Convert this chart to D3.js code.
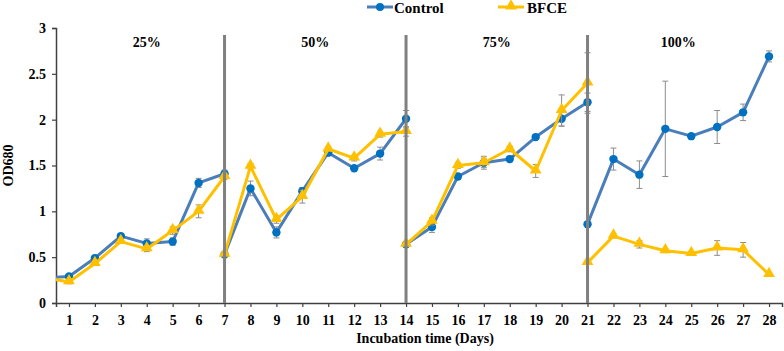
<!DOCTYPE html>
<html>
<head>
<meta charset="utf-8">
<script src="https://cdn.jsdelivr.net/npm/d3@7"></script>
<style>
  body { margin: 0; background: #fff; }
  svg text { font-family: "Liberation Serif", "Times New Roman", "DejaVu Serif", serif !important; font-weight: bold; }
</style>
</head>
<body>
<script>
const WIDTH = 784;
const HEIGHT = 351;

// Días de cada fase (el día de corte aparece en dos fases)
const phaseLabels = ["25%", "50%", "75%", "100%"];
const phaseDays = [
  [0, 1, 2, 3, 4, 5, 6, 7],
  [7, 8, 9, 10, 11, 12, 13, 14],
  [14, 15, 16, 17, 18, 19, 20, 21],
  [21, 22, 23, 24, 25, 26, 27, 28]
];
const phaseCenters = [4, 10.5, 17.5, 24.5];
const separators = [7, 14, 21];
const tickDays = [1, 2, 3, 4, 5, 6, 7, 8, 9, 10, 11, 12, 13, 14, 15, 16, 17, 18, 19, 20, 21, 22, 23, 24, 25, 26, 27, 28];
const yTicks = [0, 0.5, 1, 1.5, 2, 2.5, 3];

// Valores de OD680
const controlValues = [
  [0.27, 0.29, 0.49, 0.73, 0.65, 0.67, 1.31, 1.41],
  [0.53, 1.25, 0.77, 1.22, 1.64, 1.47, 1.63, 2.01],
  [0.64, 0.83, 1.38, 1.53, 1.57, 1.81, 2.01, 2.19],
  [0.86, 1.57, 1.40, 1.90, 1.82, 1.92, 2.08, 2.69]
];
const controlErrors = [
  [0.02, 0.02, 0.02, 0.02, 0.05, 0.04, 0.05, 0.04],
  [0.01, 0.08, 0.06, 0.04, 0.03, 0.02, 0.07, 0.09],
  [0.01, 0.06, 0.03, 0.05, 0.03, 0.02, 0.08, 0.10],
  [0.01, 0.12, 0.15, 0.52, 0.02, 0.18, 0.09, 0.06]
];
const bfceValues = [
  [0.28, 0.23, 0.43, 0.67, 0.59, 0.79, 1.00, 1.38],
  [0.53, 1.49, 0.91, 1.16, 1.68, 1.58, 1.84, 1.87],
  [0.64, 0.89, 1.50, 1.53, 1.68, 1.44, 2.10, 2.40],
  [0.44, 0.73, 0.64, 0.57, 0.54, 0.60, 0.58, 0.31]
];
const bfceErrors = [
  [0.02, 0.02, 0.02, 0.02, 0.03, 0.04, 0.07, 0.03],
  [0.01, 0.03, 0.04, 0.07, 0.02, 0.03, 0.03, 0.05],
  [0.01, 0.04, 0.03, 0.07, 0.03, 0.07, 0.17, 0.33],
  [0.01, 0.02, 0.04, 0.02, 0.02, 0.08, 0.08, 0.02]
];

const series = [
  { name: "Control", values: controlValues, errors: controlErrors, line: "#4a7ebb", marker: "#0070c0", shape: "circle" },
  { name: "BFCE", values: bfceValues, errors: bfceErrors, line: "#ffc000", marker: "#ffc000", shape: "triangle" }
];

const margin = { top: 28, right: 2, bottom: 48, left: 56 };
const plotW = WIDTH - margin.left - margin.right;
const plotH = HEIGHT - margin.top - margin.bottom;

const svg = d3.select("body").append("svg")
  .attr("width", WIDTH)
  .attr("height", HEIGHT);

const x = d3.scaleLinear().domain([0.5, 28.5]).range([margin.left, margin.left + plotW]);
const y = d3.scaleLinear().domain([0, 3]).range([margin.top + plotH, margin.top]);

svg.append("defs").append("clipPath").attr("id", "plot")
  .append("rect")
  .attr("x", margin.left).attr("y", 0)
  .attr("width", plotW + 2).attr("height", HEIGHT);

// Ejes
const yAxis = svg.append("g")
  .attr("transform", `translate(${margin.left},0)`)
  .call(d3.axisLeft(y).tickValues(yTicks).tickFormat(d3.format("")).tickSize(4).tickPadding(6));
const xAxis = svg.append("g")
  .attr("transform", `translate(0,${margin.top + plotH})`)
  .call(d3.axisBottom(x).tickValues(tickDays).tickSize(4).tickPadding(8));

[yAxis, xAxis].forEach(a => {
  a.select(".domain").attr("stroke", "#404040").attr("stroke-width", 1.5);
  a.selectAll(".tick line").attr("stroke", "#404040").attr("stroke-width", 1.2);
  a.selectAll("text")
    .attr("font-size", 14)
    .attr("fill", "#000");
});

svg.append("text")
  .attr("transform", `translate(13,${margin.top + plotH / 2}) rotate(-90)`)
  .attr("text-anchor", "middle")
  .attr("font-size", 14)
  .text("OD680");

svg.append("text")
  .attr("x", 425)
  .attr("y", 343)
  .attr("text-anchor", "middle")
  .attr("font-size", 14)
  .text("Incubation time (Days)");

// Etiquetas de fase
svg.selectAll(".phase")
  .data(phaseLabels)
  .join("text")
  .attr("class", "phase")
  .attr("x", (d, i) => x(phaseCenters[i]))
  .attr("y", 47)
  .attr("text-anchor", "middle")
  .attr("font-size", 14)
  .text(d => d);

const plot = svg.append("g").attr("clip-path", "url(#plot)");

const line = d3.line().x(d => x(d.day)).y(d => y(d.value));

const triangle = d3.symbol().type(d3.symbolTriangle).size(60);

series.forEach(s => {
  const g = plot.append("g");
  const points = [];
  s.values.forEach((vals, p) => {
    const pts = vals.map((v, i) => ({ day: phaseDays[p][i], value: v, err: s.errors[p][i] }));
    points.push(pts);
  });

  // Barras de error
  const allPts = points.flat();
  const eb = g.append("g").attr("stroke", "#8c8c8c").attr("stroke-width", 1);
  eb.selectAll(".bar").data(allPts).join("line")
    .attr("x1", d => x(d.day)).attr("x2", d => x(d.day))
    .attr("y1", d => y(d.value - d.err)).attr("y2", d => y(d.value + d.err));
  eb.selectAll(".capTop").data(allPts).join("line")
    .attr("x1", d => x(d.day) - 3).attr("x2", d => x(d.day) + 3)
    .attr("y1", d => y(d.value + d.err)).attr("y2", d => y(d.value + d.err));
  eb.selectAll(".capBot").data(allPts).join("line")
    .attr("x1", d => x(d.day) - 3).attr("x2", d => x(d.day) + 3)
    .attr("y1", d => y(d.value - d.err)).attr("y2", d => y(d.value - d.err));

  // Líneas por fase
  g.selectAll(".seg").data(points).join("path")
    .attr("d", line)
    .attr("fill", "none")
    .attr("stroke", s.line)
    .attr("stroke-width", 3)
    .attr("stroke-linejoin", "round");

  // Marcadores
  if (s.shape === "circle") {
    g.selectAll(".m").data(allPts).join("circle")
      .attr("cx", d => x(d.day)).attr("cy", d => y(d.value))
      .attr("r", 4.2)
      .attr("fill", s.marker);
  } else {
    g.selectAll(".m").data(allPts).join("path")
      .attr("transform", d => `translate(${x(d.day)},${y(d.value) - 1})`)
      .attr("d", triangle)
      .attr("fill", s.marker);
  }
});

// Separadores de fase
svg.selectAll(".sep")
  .data(separators)
  .join("line")
  .attr("x1", d => x(d)).attr("x2", d => x(d))
  .attr("y1", 35).attr("y2", margin.top + plotH)
  .attr("stroke", "#808080")
  .attr("stroke-width", 3);

// Leyenda
const legendItems = [
  { s: series[0], x: 367, tx: 394 },
  { s: series[1], x: 498, tx: 527 }
];
legendItems.forEach(it => {
  const lg = svg.append("g");
  lg.append("line")
    .attr("x1", it.x).attr("x2", it.x + 26)
    .attr("y1", 7).attr("y2", 7)
    .attr("stroke", it.s.line).attr("stroke-width", 3);
  if (it.s.shape === "circle") {
    lg.append("circle").attr("cx", it.x + 13).attr("cy", 7).attr("r", 4).attr("fill", it.s.marker);
  } else {
    lg.append("path").attr("transform", `translate(${it.x + 13},6)`).attr("d", triangle).attr("fill", it.s.marker);
  }
  lg.append("text")
    .attr("x", it.tx).attr("y", 13)
    .attr("font-size", 15)
    .text(it.s.name);
});
</script>
</body>
</html>
